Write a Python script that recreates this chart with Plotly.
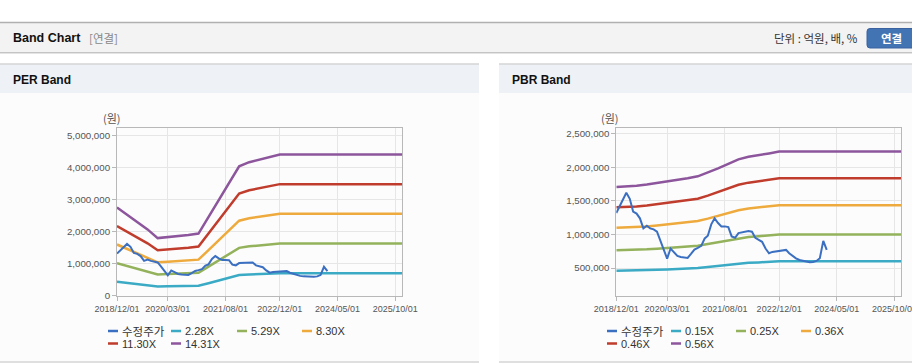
import plotly.graph_objects as go
import pandas as pd

W, H = 912, 364

# ---------------- data ----------------
# band dates (quarterly until 2022/12, then flat to the end of the axis)
band_dates = ["2018-12-01", "2019-03-01", "2019-06-01", "2019-09-01", "2019-12-01",
              "2020-03-01", "2020-06-01", "2020-09-01", "2020-12-01", "2021-03-01",
              "2021-06-01", "2021-09-01", "2021-12-01", "2022-03-01", "2022-06-01",
              "2022-09-01", "2022-12-01", "2025-12-01"]

# adjusted price (수정주가), monthly from 2018/12, in thousand won
price_start = "2018-12-01"
price_k = [1320, 1420, 1540, 1620, 1530, 1340, 1310, 1240, 1090, 1130,
           1090, 1075, 1040, 910, 770, 640, 790, 730, 680, 665,
           655, 650, 710, 775, 800, 830, 940, 980, 1150, 1240,
           1170, 1120, 1120, 1110, 970, 950, 1020, 1030, 1030, 1050,
           1040, 950, 920, 890, 790, 720, 740, 750, 760, 770,
           770, 720, 680, 645, 620, 605, 595, 585, 590, 605,
           645, 905, 770]

# PER bands, thousand won
per_names = ["2.28X", "5.29X", "8.30X", "11.30X", "14.31X"]
per_228 = [440, 404, 367, 331, 287, 292, 296, 303, 310, 392, 474, 559, 645, 666, 679, 693, 705, 705]
per_529 = [1021, 936, 852, 767, 667, 677, 688, 704, 719, 910, 1100, 1296, 1497, 1545, 1576, 1608, 1635, 1635]
per_830 = [1602, 1469, 1336, 1204, 1046, 1062, 1079, 1104, 1129, 1428, 1726, 2034, 2349, 2424, 2473, 2523, 2565, 2565]
per_1130 = [2181, 2000, 1819, 1639, 1424, 1446, 1469, 1503, 1537, 1944, 2350, 2769, 3198, 3300, 3367, 3435, 3492, 3492]
per_1431 = [2762, 2533, 2304, 2075, 1803, 1832, 1860, 1903, 1946, 2461, 2976, 3506, 4050, 4179, 4264, 4350, 4422, 4422]

# PBR bands, thousand won
pbr_names = ["0.15X", "0.25X", "0.36X", "0.46X", "0.56X"]
pbr_015 = [458, 459, 462, 467, 473, 479, 485, 492, 500, 515, 531, 549, 567, 578, 584, 591, 599, 599]
pbr_025 = [763, 765, 770, 778, 788, 798, 808, 820, 833, 858, 885, 915, 945, 963, 973, 985, 998, 998]
pbr_036 = [1098, 1102, 1109, 1120, 1134, 1148, 1163, 1181, 1199, 1235, 1274, 1318, 1361, 1386, 1400, 1418, 1436, 1436]
pbr_046 = [1403, 1408, 1417, 1431, 1449, 1467, 1486, 1509, 1532, 1578, 1628, 1684, 1739, 1771, 1789, 1812, 1835, 1835]
pbr_056 = [1708, 1714, 1725, 1742, 1764, 1786, 1809, 1837, 1865, 1921, 1982, 2050, 2117, 2156, 2178, 2206, 2234, 2234]

price_name = "수정주가"
x_tick_vals = ["2018-12-01", "2020-03-01", "2021-08-01", "2022-12-01", "2024-05-01", "2025-10-01"]
x_tick_text = ["2018/12/01", "2020/03/01", "2021/08/01", "2022/12/01", "2024/05/01", "2025/10/01"]
per_y_ticks = [0, 1000000, 2000000, 3000000, 4000000, 5000000]
pbr_y_ticks = [500000, 1000000, 1500000, 2000000, 2500000]

# ---------------- styles ----------------
price_color = "#3b6fc1"
band_colors = ["#3aaac5", "#93b25b", "#eeaa3c", "#c03c2c", "#8c559c"]
FONT = "Arial, 'Liberation Sans', 'Noto Sans CJK KR', sans-serif"
KFONT = "'Noto Sans CJK KR', Arial, sans-serif"

price_dates = pd.date_range(price_start, periods=len(price_k), freq="MS")
price = [v * 1000 for v in price_k]

fig = go.Figure()

def add_chart(bands, names, xa, ya):
    for vals, nm, col in zip(bands, names, band_colors):
        fig.add_trace(go.Scatter(x=band_dates, y=[v * 1000 for v in vals], name=nm,
                                 mode="lines", line=dict(color=col, width=2.5),
                                 xaxis=xa, yaxis=ya, showlegend=False))
    fig.add_trace(go.Scatter(x=price_dates, y=price, name=price_name, mode="lines",
                             line=dict(color=price_color, width=2),
                             xaxis=xa, yaxis=ya, showlegend=False))

add_chart([per_228, per_529, per_830, per_1130, per_1431], per_names, "x", "y")
add_chart([pbr_015, pbr_025, pbr_036, pbr_046, pbr_056], pbr_names, "x2", "y2")

def fx(x):
    return x / W

def fy(y):
    return 1 - y / H

ydom = [fy(295.7), fy(128.3)]
axis_common = dict(showgrid=True, gridcolor="#e6e6e6", gridwidth=1, showline=True, mirror=True,
                   linecolor="#b8b8b8", linewidth=1, ticks="outside", ticklen=4, tickcolor="#b8b8b8",
                   zeroline=False, fixedrange=True, automargin=False)
xcommon = dict(axis_common, type="date", range=["2018-12-01", "2025-12-01"], tickvals=x_tick_vals,
               ticktext=x_tick_text, tickfont=dict(family=FONT, size=9, color="#555"),
               ticklabeloverflow="allow")
fig.update_layout(
    xaxis=dict(xcommon, domain=[fx(117), fx(402)], anchor="y"),
    yaxis=dict(axis_common, domain=ydom, range=[0, 5240000], tickvals=per_y_ticks, tickformat=",d",
               tickfont=dict(family=FONT, size=9.7, color="#555"), anchor="x"),
    xaxis2=dict(xcommon, domain=[fx(616.3), fx(901.3)], anchor="y2"),
    yaxis2=dict(axis_common, domain=ydom, range=[88000, 2580000], tickvals=pbr_y_ticks, tickformat=",d",
                tickfont=dict(family=FONT, size=9.7, color="#555"), anchor="x2"),
)

shapes = []
def rect(x0, y0, x1, y1, fill, line=None):
    shapes.append(dict(type="rect", xref="paper", yref="paper", x0=fx(x0), x1=fx(x1), y0=fy(y1), y1=fy(y0),
                       fillcolor=fill, line=dict(width=0) if line is None else line, layer="below"))

def hline(x0, x1, y, color, width=1):
    shapes.append(dict(type="line", xref="paper", yref="paper", x0=fx(x0), x1=fx(x1), y0=fy(y), y1=fy(y),
                       line=dict(color=color, width=width), layer="below"))

# header bar
rect(0, 22, W, 52.5, "#f3f3f3")
hline(0, W, 22.5, "#b0b0b0", 1.5)
hline(0, W, 52.5, "#c4c4c4", 1)
hline(0, W, 53.5, "#e4e4e4", 1)
# panels
for (px0, px1) in [(0, 479), (499, W + 2)]:
    rect(px0, 64, px1, 93, "#eef1f6")
    rect(px0, 93, px1, 361.5, "#fcfcfc")
    hline(px0, px1, 64, "#d4d4d4", 1.5)
    hline(px0, px1, 362, "#d4d4d4", 1.5)
# button
bx0, bx1, by0, by1, r = 867, 916, 28.5, 48, 3
shapes.append(dict(type="path", xref="paper", yref="paper",
                   path=(f"M {fx(bx0 + r)},{fy(by0)} L {fx(bx1)},{fy(by0)} L {fx(bx1)},{fy(by1)} "
                         f"L {fx(bx0 + r)},{fy(by1)} Q {fx(bx0)},{fy(by1)} {fx(bx0)},{fy(by1 - r)} "
                         f"L {fx(bx0)},{fy(by0 + r)} Q {fx(bx0)},{fy(by0)} {fx(bx0 + r)},{fy(by0)} Z"),
                   fillcolor="#4273b3", line=dict(color="#3a62a0", width=1), layer="above"))

annotations = []
def text(x, y, s, size=12, color="#333", anchor="left", family=FONT, bold=False):
    if bold:
        s = f"<b>{s}</b>"
    annotations.append(dict(xref="paper", yref="paper", x=fx(x), y=fy(y), text=s, showarrow=False,
                            xanchor=anchor, yanchor="middle", font=dict(family=family, size=size, color=color)))

text(11, 38, "Band Chart", size=12.5, color="#111", bold=True)
text(87, 38.5, "[연결]", size=11.5, color="#888", family=KFONT)
text(860, 38.5, "단위 : 억원, 배, %", size=11.5, color="#333", anchor="right", family=KFONT)
text(891, 38, "연결", size=11.5, color="#ffffff", anchor="center", family=KFONT, bold=True)
text(11, 80, "PER Band", size=12, color="#111", bold=True)
text(510, 80, "PBR Band", size=12, color="#111", bold=True)
text(101, 118, "(원)", size=11, color="#555", family=KFONT)
text(599, 118, "(원)", size=11, color="#555", family=KFONT)

# legends (drawn manually with short swatches)
def legend(col_x, names):
    all_names = [price_name] + names
    all_colors = [price_color] + band_colors
    for i, (nm, col) in enumerate(zip(all_names, all_colors)):
        row, c = divmod(i, 4)
        x = col_x[c]
        y = 331 + row * 12.5
        shapes.append(dict(type="line", xref="paper", yref="paper", x0=fx(x), x1=fx(x + 10), y0=fy(y), y1=fy(y),
                           line=dict(color=col, width=2.5)))
        text(x + 12, y, nm, size=11 if i else 11.5, color="#333", family=FONT if i else KFONT)

legend([108, 171, 237, 302], per_names)
legend([607, 671, 736, 801], pbr_names)

fig.update_layout(width=W, height=H, margin=dict(l=0, r=0, t=0, b=0, pad=0, autoexpand=False),
                  paper_bgcolor="#ffffff", plot_bgcolor="#ffffff",
                  shapes=shapes, annotations=annotations, showlegend=False,
                  font=dict(family=FONT))
fig.write_html("out.html", config={"displayModeBar": False},
               post_script="document.body.style.margin='0';document.body.style.overflow='hidden';")
